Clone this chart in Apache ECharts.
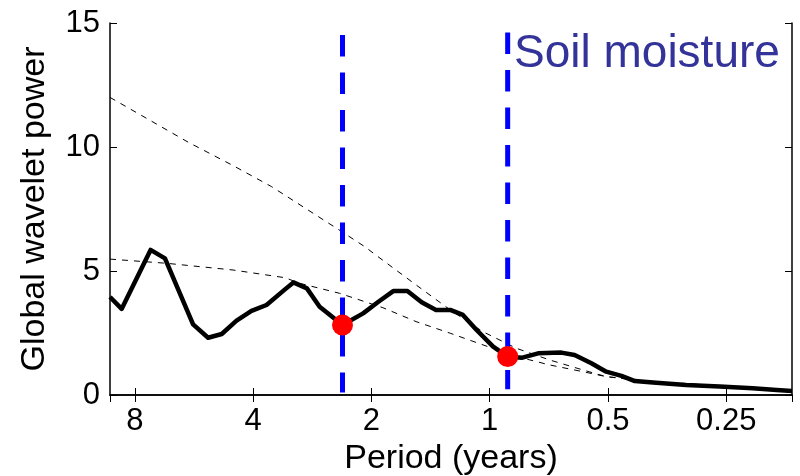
<!DOCTYPE html>
<html>
<head>
<meta charset="utf-8">
<script src="https://cdn.jsdelivr.net/npm/echarts@6/dist/echarts.min.js"></script>
<style>html,body{margin:0;padding:0;background:#fff;}#c{width:800px;height:476px;}</style>
</head>
<body>
<div id="c"></div>
<script>
// Global wavelet power spectrum (solid black)
const periodsGws = [9.26, 8.65, 7.30, 6.71, 5.69, 5.21, 4.81, 4.41, 4.04, 3.70, 3.32, 3.16, 2.92, 2.71, 2.37, 2.10, 1.92, 1.76, 1.62, 1.49, 1.37, 1.26, 1.17, 1.08, 0.98, 0.90, 0.83, 0.753, 0.657, 0.608, 0.551, 0.505, 0.462, 0.427, 0.384, 0.316, 0.260, 0.214, 0.186, 0.170];
const powerGws = [3.95, 3.47, 5.85, 5.51, 2.85, 2.31, 2.46, 3.0, 3.39, 3.63, 4.26, 4.54, 4.30, 3.56, 2.82, 3.29, 3.76, 4.19, 4.19, 3.74, 3.43, 3.43, 3.23, 2.62, 1.95, 1.55, 1.50, 1.68, 1.71, 1.61, 1.28, 0.94, 0.77, 0.56, 0.50, 0.40, 0.34, 0.27, 0.20, 0.16];
// Upper significance curve (dashed)
const periodsSigA = [9.26, 5.85, 4.50, 3.59, 2.36, 2.08, 1.87, 1.54, 1.26, 1.04, 0.854, 0.703, 0.579, 0.505, 0.385, 0.260, 0.170];
const powerSigA = [12.0, 10.19, 9.25, 8.40, 6.55, 5.98, 5.43, 4.44, 3.43, 2.55, 1.88, 1.41, 1.01, 0.74, 0.55, 0.37, 0.19];
// Lower significance curve (dashed)
const periodsSigB = [9.26, 6.64, 4.50, 3.32, 3.04, 2.41, 1.87, 1.54, 1.26, 1.04, 0.854, 0.703, 0.579, 0.505, 0.385, 0.260, 0.170];
const powerSigB = [5.48, 5.31, 5.04, 4.73, 4.50, 4.10, 3.52, 2.96, 2.49, 2.02, 1.55, 1.21, 0.94, 0.74, 0.52, 0.35, 0.18];
// Marked minima (red dots) and vertical blue dashed lines
const markPeriods = [2.37, 0.90];
const markPower = [2.82, 1.55];
const vlineTop = [14.52, 14.62];
const vlineBottom = [0.1, 0.23];
// Axis settings
const xMin = 0.170, xMax = 9.26;
const yMin = 0, yMax = 15, yStep = 5;
const labelText = 'Soil moisture';

const FONT = 'Liberation Sans, Arial, sans-serif';
const zip = (a, b) => a.map((v, i) => [v, b[i]]);

const chart = echarts.init(document.getElementById('c'), null, {renderer: 'canvas'});

const xBase = {
  type: 'log', logBase: 2, min: xMin, max: xMax, inverse: true,
  splitLine: {show: false},
  axisLine: {show: true, lineStyle: {color: '#000', width: 1.5}},
  axisTick: {show: true, inside: true, length: 7, lineStyle: {color: '#000', width: 1}}
};
const yBase = {
  type: 'value', min: yMin, max: yMax, interval: yStep,
  splitLine: {show: false},
  axisLine: {show: true, lineStyle: {color: '#000', width: 1.5}},
  axisTick: {show: true, inside: true, length: 7, lineStyle: {color: '#000', width: 1}}
};

const series = [
  {type: 'line', data: zip(periodsSigA, powerSigA), showSymbol: false, symbol: 'none',
   lineStyle: {color: '#000', width: 1, type: [6, 6]}, z: 2},
  {type: 'line', data: zip(periodsSigB, powerSigB), showSymbol: false, symbol: 'none',
   lineStyle: {color: '#000', width: 1, type: [6, 6]}, z: 2},
  {type: 'line', data: zip(periodsGws, powerGws), showSymbol: false, symbol: 'none',
   lineStyle: {color: '#000', width: 4.5, join: 'round'}, z: 3}
];
markPeriods.forEach((p, i) => {
  series.push({type: 'line', data: [[p, vlineTop[i]], [p, vlineBottom[i]]], showSymbol: false, symbol: 'none',
    lineStyle: {color: '#0000ff', width: 5, type: [21.5, 16], cap: 'butt'}, z: 4});
});
series.push({type: 'scatter', data: zip(markPeriods, markPower), symbol: 'circle', symbolSize: 21,
  itemStyle: {color: '#ff0000', opacity: 1}, z: 5});

chart.setOption({
  animation: false,
  backgroundColor: '#fff',
  grid: {left: 110, right: 8, top: 23, bottom: 81, containLabel: false, outerBoundsMode: 'none'},
  xAxis: [
    Object.assign({}, xBase, {position: 'bottom',
      axisLabel: {color: '#000', fontSize: 31, fontFamily: FONT, margin: 11, showMinLabel: false, showMaxLabel: false},
      name: 'Period (years)', nameLocation: 'middle', nameGap: 42,
      nameTextStyle: {color: '#000', fontSize: 34, fontFamily: FONT}}),
    Object.assign({}, xBase, {position: 'top', axisLabel: {show: false}})
  ],
  yAxis: [
    Object.assign({}, yBase, {position: 'left',
      axisLabel: {color: '#000', fontSize: 31, fontFamily: FONT, margin: 10},
      name: 'Global wavelet power', nameLocation: 'middle', nameGap: 58, nameRotate: 90,
      nameTextStyle: {color: '#000', fontSize: 34, fontFamily: FONT}}),
    Object.assign({}, yBase, {position: 'right', axisLabel: {show: false}})
  ],
  graphic: [{type: 'text', left: 514, top: 31,
    style: {text: labelText, fontSize: 46, fill: '#333399', fontFamily: FONT}}],
  series: series
});
</script>
</body>
</html>
